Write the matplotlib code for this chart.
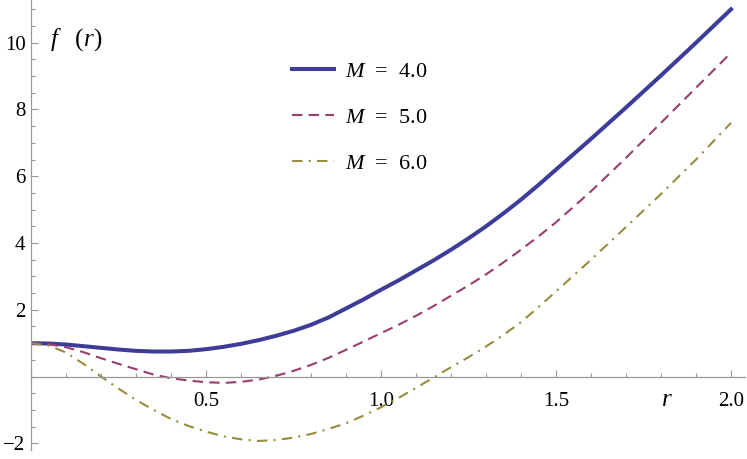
import numpy as np
import matplotlib
matplotlib.use("Agg")
import matplotlib.pyplot as plt
from matplotlib.ticker import MultipleLocator

plt.rcParams['font.family'] = 'serif'
plt.rcParams['font.serif'] = ['Liberation Serif', 'DejaVu Serif']
plt.rcParams['mathtext.fontset'] = 'custom'
plt.rcParams['mathtext.rm'] = 'Liberation Serif'
plt.rcParams['mathtext.it'] = 'Liberation Serif:italic'

# values
r = [0.0, 0.05, 0.1, 0.15, 0.2, 0.25, 0.3, 0.35, 0.4, 0.45, 0.5, 0.55, 0.6,
     0.65, 0.7, 0.75, 0.8, 0.85, 0.9, 0.95, 1.0, 1.05, 1.1, 1.15, 1.2, 1.25,
     1.3, 1.35, 1.4, 1.45, 1.5, 1.6, 1.7, 1.8, 1.9, 2.0]
f_m4 = [1.0, 0.99, 0.96, 0.91, 0.86, 0.81, 0.77, 0.75, 0.75, 0.77, 0.82, 0.89,
        0.98, 1.09, 1.22, 1.37, 1.55, 1.77, 2.04, 2.31, 2.6, 2.88, 3.18, 3.48,
        3.8, 4.14, 4.5, 4.89, 5.3, 5.74, 6.2, 7.12, 8.06, 9.02, 10.0, 11.0]
f_m5 = [1.0, 0.97, 0.88, 0.73, 0.55, 0.38, 0.22, 0.06, -0.05, -0.12, -0.17,
        -0.19, -0.16, -0.09, 0.02, 0.17, 0.35, 0.56, 0.8, 1.05, 1.3, 1.55, 1.82,
        2.11, 2.42, 2.73, 3.06, 3.42, 3.8, 4.2, 4.62, 5.55, 6.55, 7.6, 8.65, 9.7]
f_m6 = [1.0, 0.93, 0.72, 0.38, 0.0, -0.36, -0.7, -1.0, -1.27, -1.48, -1.65,
        -1.79, -1.88, -1.93, -1.9, -1.83, -1.72, -1.57, -1.4, -1.17, -0.92,
        -0.64, -0.34, -0.03, 0.28, 0.58, 0.9, 1.25, 1.63, 2.08, 2.55, 3.5, 4.48,
        5.47, 6.5, 7.6]
labels = ['$M$  =  4.0', '$M$  =  5.0', '$M$  =  6.0']

fig = plt.figure(figsize=(7.47, 4.59), dpi=100)
ax = fig.add_axes([31 / 747, 9 / 459, 714 / 747, 450 / 459])

ax.plot(r, f_m4, color='#3d3d99', lw=2.9, label=labels[0])
ax.plot(r, f_m5, color='#993d71', lw=1.5, dashes=(5, 3), label=labels[1])
ax.plot(r, f_m6, color='#998c3d', lw=1.5, dashes=(5, 3, 1, 3), label=labels[2])

ax.set_xlim(0, 2.04)
ax.set_ylim(-2.2, 11.28)

# Mathematica-like axes crossing at the origin
for side in ['top', 'right']:
    ax.spines[side].set_visible(False)
ax.spines['left'].set_position(('data', 0))
ax.spines['bottom'].set_position(('data', 0))
for side in ['left', 'bottom']:
    ax.spines[side].set_color('#999999')
    ax.spines[side].set_linewidth(0.9)

ax.xaxis.set_minor_locator(MultipleLocator(0.1))
ax.yaxis.set_minor_locator(MultipleLocator(0.5))
ax.set_xticks([0.5, 1.0, 1.5, 2.0])
ax.set_xticklabels(['0.5', '1.0', '1.5', '2.0'])
ax.set_yticks([-2, 2, 4, 6, 8, 10])
ax.set_yticklabels(['\u22122', '2', '4', '6', '8', '10'])
ax.tick_params(which='both', direction='in', color='#999999', width=0.8,
               labelsize=15)
ax.tick_params(which='major', length=5)
ax.tick_params(which='minor', length=3)
ax.tick_params(axis='x', pad=11)
ax.tick_params(axis='y', pad=4)

ax.text(0.055, 10.1, r'$f\ \ \ (r)$', fontsize=18, ha='left', va='center')
ax.text(1.817, -0.7, r'$r$', fontsize=18, ha='center', va='center')

ax.legend(loc='upper left', bbox_to_anchor=(272 / 747, 1 - 41 / 459),
          bbox_transform=fig.transFigure, frameon=False, fontsize=16,
          handlelength=1.9, handletextpad=0.5, labelspacing=1.15)

fig.savefig('out.png', dpi=100)
